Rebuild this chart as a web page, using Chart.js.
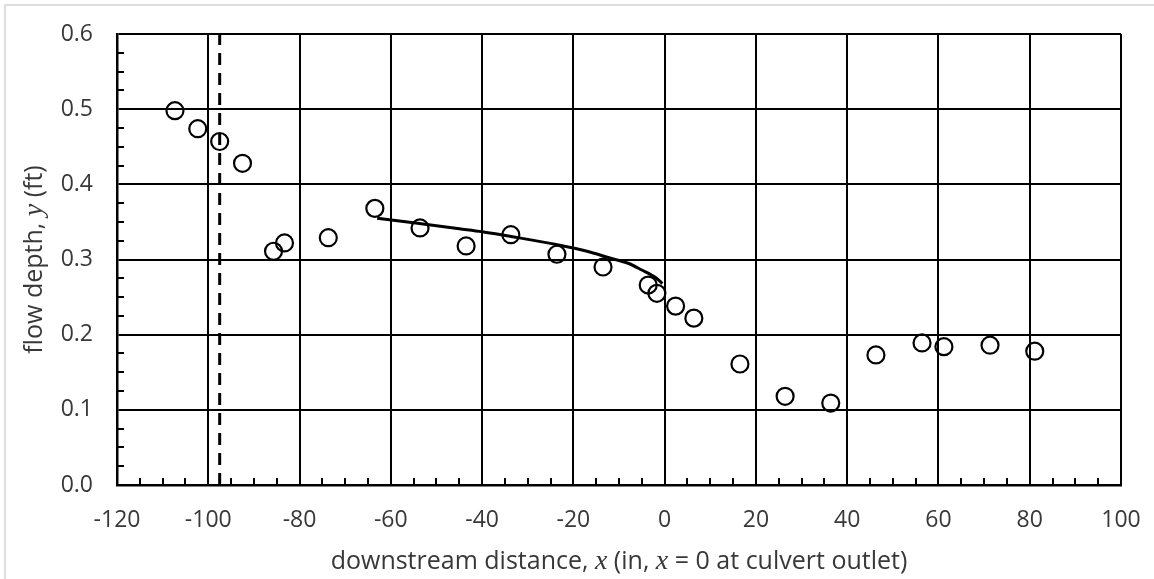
<!DOCTYPE html>
<html>
<head>
<meta charset="utf-8">
<script src="https://cdn.jsdelivr.net/npm/chart.js@4"></script>
<style>
  html, body { margin: 0; padding: 0; background: #fff; }
  .frame { position: absolute; left: 4px; top: 4px; width: 1150px; height: 575px;
           border-top: 2px solid #dedede; border-left: 2px solid #dedede; }
  .wrap { position: absolute; left: 0; top: 0; width: 1154px; height: 579px; }
</style>
</head>
<body>
<div class="frame"></div>
<div class="wrap"><canvas id="chart" width="1154" height="579"></canvas></div>
<script>
// measured flow depths along the channel
const depthX = [-107.3, -102.3, -97.5, -92.5, -85.7, -83.3, -73.7, -63.5, -53.6, -43.5, -33.7, -23.6, -13.5, -3.6, -1.7, 2.4, 6.4, 16.5, 26.4, 36.4, 46.3, 56.4, 61.2, 71.3, 81.1]
const depthY = [0.498, 0.474, 0.457, 0.428, 0.311, 0.322, 0.329, 0.368, 0.342, 0.318, 0.333, 0.307, 0.290, 0.266, 0.255, 0.238, 0.222, 0.161, 0.118, 0.109, 0.173, 0.189, 0.184, 0.186, 0.178]

// computed water surface profile upstream of the outlet
const profileX = [-63, -55, -45, -40, -33, -23, -17, -12, -8, -5, -2, -0.5]
const profileY = [0.355, 0.349, 0.341, 0.337, 0.330, 0.319, 0.311, 0.302, 0.295, 0.286, 0.276, 0.268]

// culvert inlet marker
const inletX = -97.5
const inletY = [0, 0.6]

const xTicks = [-120, -100, -80, -60, -40, -20, 0, 20, 40, 60, 80, 100]
const yTicks = [0.0, 0.1, 0.2, 0.3, 0.4, 0.5, 0.6]
const xMinorStep = 5
const yMinorStep = 0.025

const INK = '#000'
const TEXT = '#383838'
const TICK_FONT = { family: 'Open Sans', size: 23 }

// inward minor tick marks on both axes
const minorTicks = {
  id: 'minorTicks',
  afterDraw(chart) {
    const { ctx, chartArea: a, scales: { x, y } } = chart
    ctx.save()
    ctx.strokeStyle = INK
    ctx.lineWidth = 2
    ctx.beginPath()
    for (let v = x.min; v <= x.max + 1e-9; v += xMinorStep) {
      if (Math.abs(v % 20) < 1e-6) continue
      const px = Math.round(x.getPixelForValue(v))
      ctx.moveTo(px, a.bottom)
      ctx.lineTo(px, a.bottom - 7)
    }
    for (let i = 0; i * yMinorStep <= y.max + 1e-9; i++) {
      if (i % 4 === 0) continue
      const py = Math.round(y.getPixelForValue(i * yMinorStep))
      ctx.moveTo(a.left, py)
      ctx.lineTo(a.left + 7, py)
    }
    ctx.stroke()
    ctx.restore()
  }
}

// axis titles with italic variable names
function drawRich(ctx, parts, cx, cy) {
  const widths = parts.map(p => { ctx.font = p[1]; return ctx.measureText(p[0]).width })
  let xPos = cx - widths.reduce((s, w) => s + w, 0) / 2
  parts.forEach((p, i) => {
    ctx.font = p[1]
    ctx.fillText(p[0], xPos, cy)
    xPos += widths[i]
  })
}

const axisTitles = {
  id: 'axisTitles',
  afterDraw(chart) {
    const { ctx, chartArea: a } = chart
    const sans = '25px "Open Sans"'
    const ital = 'italic 28px "Liberation Serif"'
    ctx.save()
    ctx.fillStyle = TEXT
    ctx.textBaseline = 'alphabetic'
    ctx.textAlign = 'left'
    drawRich(ctx, [
      ['downstream distance, ', sans], ['x', ital], [' (in, ', sans], ['x', ital], [' = 0 at culvert outlet)', sans]
    ], (a.left + a.right) / 2, 569)
    ctx.translate(42, (a.top + a.bottom) / 2)
    ctx.rotate(-Math.PI / 2)
    drawRich(ctx, [['flow depth, ', sans], ['y', ital], [' (ft)', sans]], 0, 0)
    ctx.restore()
  }
}

// invisible tick marks keep the labels off the axis without widening the layout padding
const hiddenTicks = len => ({ color: INK, lineWidth: 2, drawTicks: true, tickLength: len, tickColor: 'rgba(0,0,0,0)' })

new Chart(document.getElementById('chart'), {
  type: 'scatter',
  data: {
    datasets: [
      {
        label: 'measured',
        data: depthX.map((x, i) => ({ x, y: depthY[i] })),
        pointStyle: 'circle',
        pointRadius: 8.5,
        pointBorderWidth: 2.2,
        pointBorderColor: INK,
        pointBackgroundColor: 'rgba(0,0,0,0)',
        showLine: false,
        clip: false,
        order: 1,
      },
      {
        label: 'profile',
        type: 'line',
        data: profileX.map((x, i) => ({ x, y: profileY[i] })),
        borderColor: INK,
        borderWidth: 3,
        pointRadius: 0,
        cubicInterpolationMode: 'monotone',
        fill: false,
        order: 2,
      },
      {
        label: 'inlet',
        type: 'line',
        data: inletY.map(y => ({ x: inletX, y })),
        borderColor: INK,
        borderWidth: 3,
        borderDash: [12, 8],
        pointRadius: 0,
        fill: false,
        order: 3,
      },
    ],
  },
  options: {
    responsive: false,
    animation: false,
    events: [],
    layout: { padding: { top: 34, right: 33, left: 0, bottom: 0 } },
    plugins: { legend: { display: false }, tooltip: { enabled: false } },
    scales: {
      x: {
        type: 'linear',
        min: xTicks[0],
        max: xTicks[xTicks.length - 1],
        afterBuildTicks: s => { s.ticks = xTicks.map(v => ({ value: v })) },
        afterFit: s => { s.height = 94 },
        ticks: { color: TEXT, font: TICK_FONT, padding: 0, callback: v => String(v) },
        grid: hiddenTicks(22),
        border: { color: INK, width: 2.5 },
      },
      y: {
        type: 'linear',
        min: yTicks[0],
        max: yTicks[yTicks.length - 1],
        afterBuildTicks: s => { s.ticks = yTicks.map(v => ({ value: v })) },
        afterFit: s => { s.width = 117 },
        ticks: { color: TEXT, font: TICK_FONT, padding: 0, callback: v => v.toFixed(1) },
        grid: hiddenTicks(24),
        border: { color: INK, width: 2.5 },
      },
    },
  },
  plugins: [minorTicks, axisTitles],
})
</script>
</body>
</html>
